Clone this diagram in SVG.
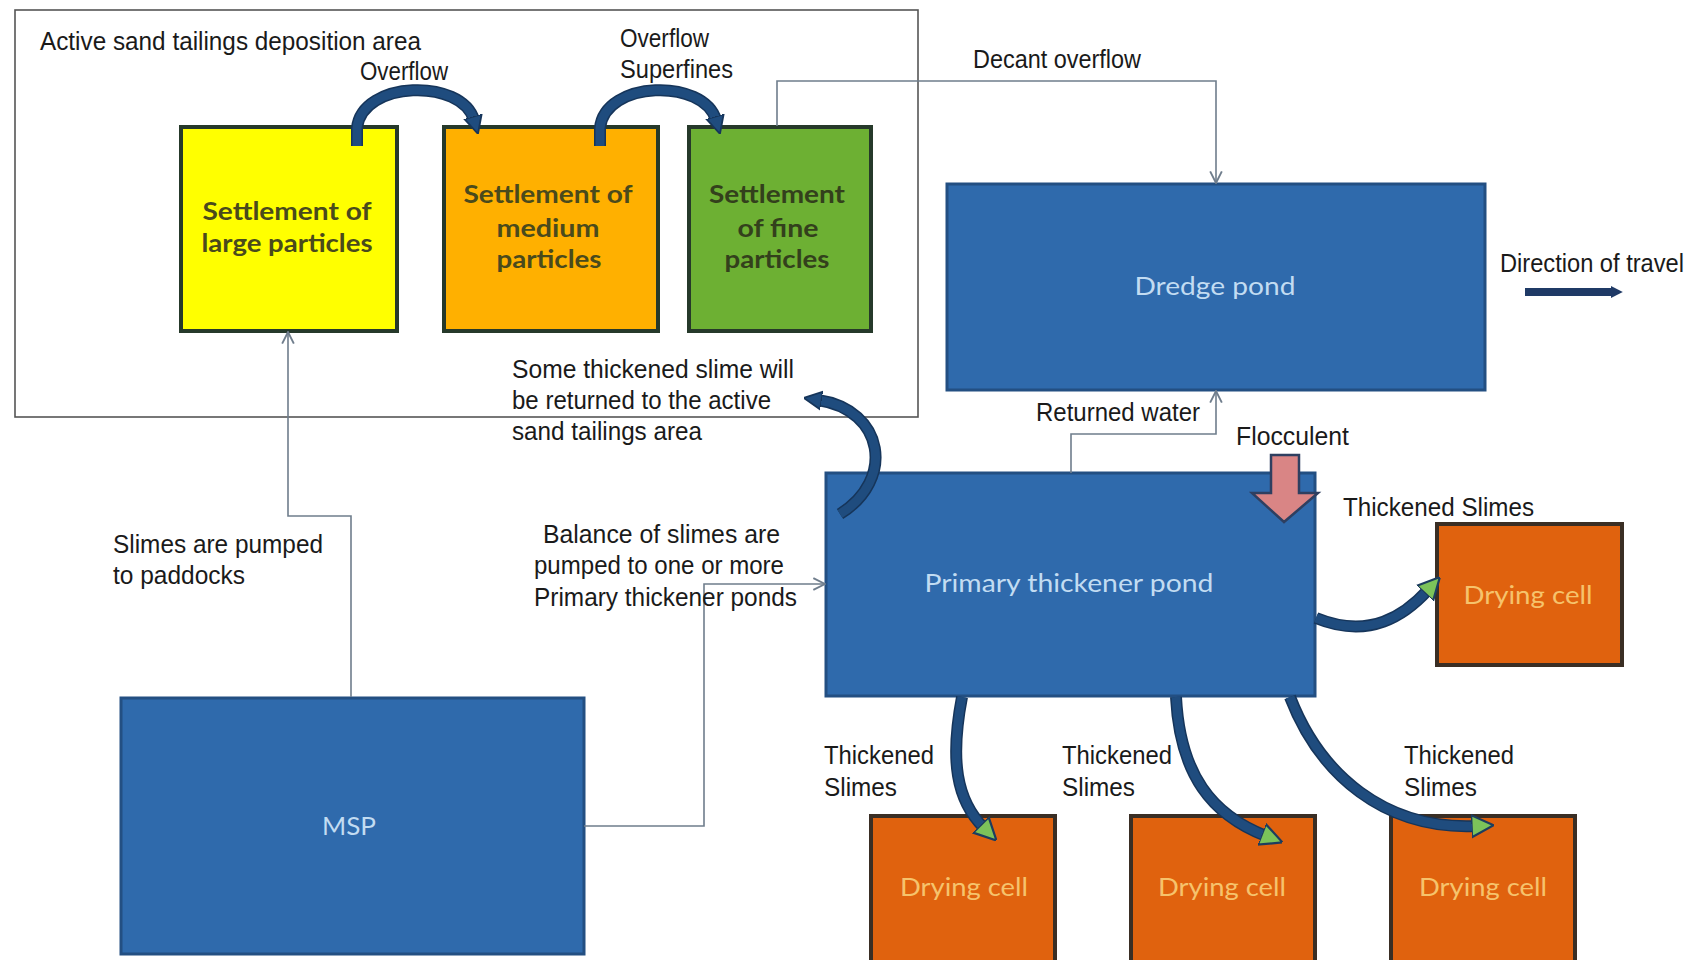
<svg xmlns="http://www.w3.org/2000/svg" width="1693" height="960" viewBox="0 0 1693 960">
<style>
.lbl{font-family:"Liberation Sans Narrow","Liberation Sans",Arial,sans-serif;font-size:25px;fill:#1a1a1a}
.in{font-family:Lato,"Open Sans",sans-serif;font-weight:bold;font-size:24px;fill:#4a4a1c;text-anchor:middle}
.blue{fill:#2f6aac;stroke:#234f82;stroke-width:3}
.bt{font-family:Lato,"Open Sans",sans-serif;font-size:25px;fill:#c2dcf2;text-anchor:middle}
.dry{fill:#e0620e;stroke:#3a2e24;stroke-width:4}
.dt{font-family:Lato,"Open Sans",sans-serif;font-size:25px;fill:#f6c36c;text-anchor:middle}
.thin{fill:none;stroke:#6f7d8c;stroke-width:1.6}
.thickO{fill:none;stroke:#16355a;stroke-width:12}
.thick{fill:none;stroke:#1f4c7e;stroke-width:9}
.set{stroke:#26392a;stroke-width:4}
</style>
<defs>
<marker id="open" viewBox="0 0 12 12" refX="11" refY="6" markerWidth="14" markerHeight="14" markerUnits="userSpaceOnUse" orient="auto">
<path d="M1,1 L11,6 L1,11" fill="none" stroke="#6f7d8c" stroke-width="1.6"/>
</marker>
<marker id="bhead" viewBox="0 0 10 10" refX="2" refY="5" markerWidth="18" markerHeight="24" markerUnits="userSpaceOnUse" orient="auto">
<path d="M0,0 L10,5 L0,10 z" fill="#1f4c7e" stroke="#16355a" stroke-width="1"/>
</marker>
<marker id="ghead" viewBox="0 0 10 10" refX="2" refY="5" markerWidth="22" markerHeight="26" markerUnits="userSpaceOnUse" orient="auto">
<path d="M0,0 L10,5 L0,10 z" fill="#7cc35a" stroke="#1d3d5e" stroke-width="1"/>
</marker>
<marker id="dhead" viewBox="0 0 10 10" refX="1" refY="5" markerWidth="12" markerHeight="18" markerUnits="userSpaceOnUse" orient="auto">
<path d="M0,0 L10,5 L0,10 z" fill="#1f3a66"/>
</marker>
</defs>
<rect width="1693" height="960" fill="#ffffff"/>

<g id="area">
<rect x="15" y="10" width="903" height="407" fill="none" stroke="#555" stroke-width="1.6"/>
<text class="lbl" x="40" y="50" textLength="381" lengthAdjust="spacingAndGlyphs">Active sand tailings deposition area</text>
</g>

<g id="large">
<rect class="set" x="181" y="127" width="216" height="204" fill="#ffff00"/>
<text class="in" x="287" y="220" textLength="169" lengthAdjust="spacingAndGlyphs">Settlement of</text>
<text class="in" x="287" y="252" textLength="171" lengthAdjust="spacingAndGlyphs">large particles</text>
</g>
<g id="medium">
<rect class="set" x="444" y="127" width="214" height="204" fill="#ffb000"/>
<text class="in" x="548" y="203" textLength="169" lengthAdjust="spacingAndGlyphs">Settlement of</text>
<text class="in" x="548" y="237" textLength="103" lengthAdjust="spacingAndGlyphs">medium</text>
<text class="in" x="549" y="268" textLength="105" lengthAdjust="spacingAndGlyphs">particles</text>
</g>
<g id="fine">
<rect class="set" x="689" y="127" width="182" height="204" fill="#6db033"/>
<text class="in" x="777" y="203" textLength="136" lengthAdjust="spacingAndGlyphs" style="fill:#33401c">Settlement</text>
<text class="in" x="778" y="237" textLength="81" lengthAdjust="spacingAndGlyphs" style="fill:#33401c">of fine</text>
<text class="in" x="777" y="268" textLength="105" lengthAdjust="spacingAndGlyphs" style="fill:#33401c">particles</text>
</g>

<g id="dredge">
<rect class="blue" x="947" y="184" width="538" height="206"/>
<text class="bt" x="1215" y="295" textLength="161" lengthAdjust="spacingAndGlyphs">Dredge pond</text>
</g>

<g id="primary">
<rect class="blue" x="826" y="473" width="489" height="223"/>
<text class="bt" x="1069" y="592" textLength="289" lengthAdjust="spacingAndGlyphs">Primary thickener pond</text>
</g>

<g id="msp">
<rect class="blue" x="121" y="698" width="463" height="256"/>
<text class="bt" x="349" y="835" textLength="54" lengthAdjust="spacingAndGlyphs">MSP</text>
</g>

<g id="cell-right">
<rect class="dry" x="1437" y="524" width="185" height="141"/>
<text class="dt" x="1528" y="604" textLength="129" lengthAdjust="spacingAndGlyphs">Drying cell</text>
</g>
<g id="cell-1">
<rect class="dry" x="871" y="816" width="184" height="150"/>
<text class="dt" x="964" y="896" textLength="128" lengthAdjust="spacingAndGlyphs">Drying cell</text>
</g>
<g id="cell-2">
<rect class="dry" x="1131" y="816" width="184" height="150"/>
<text class="dt" x="1222" y="896" textLength="128" lengthAdjust="spacingAndGlyphs">Drying cell</text>
</g>
<g id="cell-3">
<rect class="dry" x="1391" y="816" width="184" height="150"/>
<text class="dt" x="1483" y="896" textLength="128" lengthAdjust="spacingAndGlyphs">Drying cell</text>
</g>

<g id="connectors">
<path class="thin" d="M777,126 V81 H1216 V183" marker-end="url(#open)"/>
<path class="thin" d="M1071,473 V434 H1216 V391" marker-end="url(#open)"/>
<path class="thin" d="M351,697 V516 H288 V332" marker-end="url(#open)"/>
<path class="thin" d="M584,826 H704 V584 H825" marker-end="url(#open)"/>
<path class="thickO" d="M357,146 V128 C362,80 462,78 474,120"/>
<path class="thick" d="M357,146 V128 C362,80 462,78 474,120" marker-end="url(#bhead)"/>
<path class="thickO" d="M600,146 V128 C605,80 704,78 716,120"/>
<path class="thick" d="M600,146 V128 C605,80 704,78 716,120" marker-end="url(#bhead)"/>
<path class="thickO" d="M840,514 C895,480 885,410 818,400"/>
<path class="thick" d="M840,514 C895,480 885,410 818,400" marker-end="url(#bhead)"/>
<path class="thickO" d="M1316,618 C1370,640 1405,615 1428,590"/>
<path class="thick" d="M1316,618 C1370,640 1405,615 1428,590" marker-end="url(#ghead)"/>
<path class="thickO" d="M962,697 C950,760 956,800 984,828"/>
<path class="thick" d="M962,697 C950,760 956,800 984,828" marker-end="url(#ghead)"/>
<path class="thickO" d="M1176,697 C1180,775 1212,815 1266,836"/>
<path class="thick" d="M1176,697 C1180,775 1212,815 1266,836" marker-end="url(#ghead)"/>
<path class="thickO" d="M1290,697 C1320,775 1385,830 1476,826"/>
<path class="thick" d="M1290,697 C1320,775 1385,830 1476,826" marker-end="url(#ghead)"/>
<path d="M1271,455 H1299 V493 H1318 L1284,522 L1252,493 H1271 Z" fill="#d98585" stroke="#2e3f60" stroke-width="2.5"/>
<path d="M1525,292 H1612" stroke="#1f3a66" stroke-width="8" fill="none" marker-end="url(#dhead)"/>
</g>

<g id="labels">
<text class="lbl" x="360" y="80" textLength="88" lengthAdjust="spacingAndGlyphs">Overflow</text>
<text class="lbl" x="620" y="47" textLength="89" lengthAdjust="spacingAndGlyphs">Overflow</text>
<text class="lbl" x="620" y="78" textLength="113" lengthAdjust="spacingAndGlyphs">Superfines</text>
<text class="lbl" x="973" y="68" textLength="168" lengthAdjust="spacingAndGlyphs">Decant overflow</text>
<text class="lbl" x="1500" y="272" textLength="184" lengthAdjust="spacingAndGlyphs">Direction of travel</text>
<text class="lbl" x="512" y="378" textLength="282" lengthAdjust="spacingAndGlyphs">Some thickened slime will</text>
<text class="lbl" x="512" y="409" textLength="259" lengthAdjust="spacingAndGlyphs">be returned to the active</text>
<text class="lbl" x="512" y="440" textLength="190" lengthAdjust="spacingAndGlyphs">sand tailings area</text>
<text class="lbl" x="1036" y="421" textLength="164" lengthAdjust="spacingAndGlyphs">Returned water</text>
<text class="lbl" x="1236" y="445" textLength="113" lengthAdjust="spacingAndGlyphs">Flocculent</text>
<text class="lbl" x="1343" y="516" textLength="191" lengthAdjust="spacingAndGlyphs">Thickened Slimes</text>
<text class="lbl" x="113" y="553" textLength="210" lengthAdjust="spacingAndGlyphs">Slimes are pumped</text>
<text class="lbl" x="113" y="584" textLength="132" lengthAdjust="spacingAndGlyphs">to paddocks</text>
<text class="lbl" x="543" y="543" textLength="237" lengthAdjust="spacingAndGlyphs">Balance  of slimes are</text>
<text class="lbl" x="534" y="574" textLength="250" lengthAdjust="spacingAndGlyphs">pumped to one or more</text>
<text class="lbl" x="534" y="606" textLength="263" lengthAdjust="spacingAndGlyphs">Primary thickener ponds</text>
<text class="lbl" x="824" y="764" textLength="110" lengthAdjust="spacingAndGlyphs">Thickened</text>
<text class="lbl" x="824" y="796" textLength="73" lengthAdjust="spacingAndGlyphs">Slimes</text>
<text class="lbl" x="1062" y="764" textLength="110" lengthAdjust="spacingAndGlyphs">Thickened</text>
<text class="lbl" x="1062" y="796" textLength="73" lengthAdjust="spacingAndGlyphs">Slimes</text>
<text class="lbl" x="1404" y="764" textLength="110" lengthAdjust="spacingAndGlyphs">Thickened</text>
<text class="lbl" x="1404" y="796" textLength="73" lengthAdjust="spacingAndGlyphs">Slimes</text>
</g>
</svg>
